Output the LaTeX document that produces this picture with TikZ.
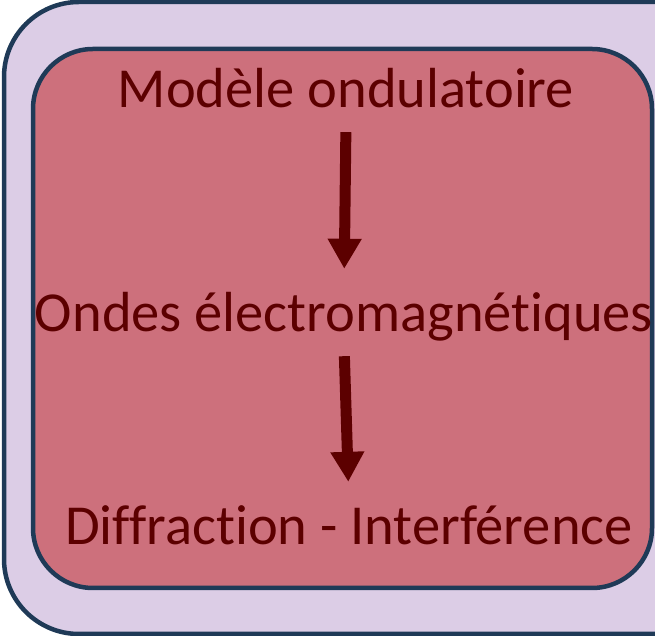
\documentclass[tikz,border=0pt]{standalone}
\usepackage{fontspec}
\setmainfont{Carlito}[Ligatures=NoCommon]
\usepackage{tikz}
\usetikzlibrary{arrows.meta}

\definecolor{lilac}{HTML}{DCCDE6}
\definecolor{rosebox}{HTML}{CD707C}
\definecolor{navyline}{HTML}{1F3A57}
\definecolor{darkred}{HTML}{5C0000}

\tikzset{
    panel/.style={draw=navyline, line width=4.5pt},
    label/.style={text=darkred, font=\fontsize{56.5}{62}\selectfont, inner sep=0pt,
        text height=40pt, text depth=12pt, anchor=base},
    flow/.style={draw=darkred, line width=11pt,
        -{Triangle[width=32pt,length=30pt]}, shorten <=12pt, shorten >=23pt}
}

\begin{document}
\begin{tikzpicture}[x=1pt,y=1pt]
    \useasboundingbox (0,0) rectangle (655,636);
    \clip (0,0) rectangle (655,636);
    \filldraw[panel, fill=lilac, rounded corners=75pt] (4,2) rectangle (760,634);
    \filldraw[panel, fill=rosebox, rounded corners=60pt] (33,48) rectangle (652,587);

    \node[label] (model) at (346,528) {Modèle ondulatoire};
    \node[label] (ondes) at (344,304) {Ondes électromagnétiques};
    \node[label] (diff) at (349,91) {Diffraction - Interférence};

    \draw[flow] (model.south) -- (ondes.north);
    \draw[flow] (ondes.south) -- (diff.north);
\end{tikzpicture}
\end{document}
